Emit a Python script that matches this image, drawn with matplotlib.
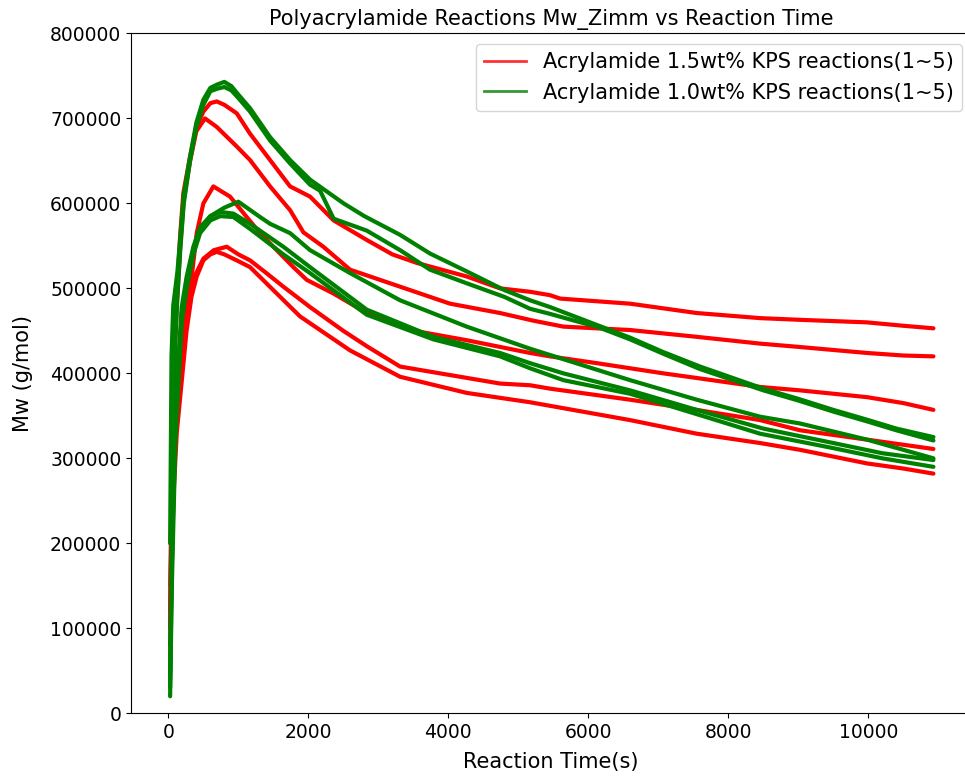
import matplotlib
matplotlib.use("Agg")
import matplotlib.pyplot as plt
from matplotlib.lines import Line2D
import numpy as np

# Reaction time (s) and Mw (in thousands of g/mol)
# 1.5wt% KPS reactions (red)
r1_t = [25, 50, 80, 120, 167, 214, 310, 400, 500, 600, 691, 800, 977, 1167, 1453, 1739, 2024, 2361, 2834, 3200, 3548, 4262, 4739, 5167, 5453, 5596, 6596, 7548, 8453, 9024, 9981, 10500, 10929]
r1_m = [120, 300, 420, 490, 560, 612, 655, 690, 708, 718, 720, 716, 706, 682, 651, 620, 608, 580, 557, 540, 530, 514, 500, 496, 492, 488, 482, 471, 465, 463, 460, 456, 453]
r2_t = [25, 50, 80, 120, 170, 220, 310, 400, 524, 691, 977, 1167, 1453, 1739, 1929, 2214, 2596, 3310, 4024, 4739, 5214, 5643, 6596, 7548, 8453, 9024, 9981, 10500, 10929]
r2_m = [100, 280, 400, 480, 550, 605, 650, 685, 700, 690, 667, 651, 620, 592, 566, 549, 522, 502, 482, 471, 462, 455, 451, 443, 435, 431, 424, 421, 420]
r3_t = [25, 50, 90, 150, 250, 334, 405, 500, 643, 881, 1119, 1310, 1548, 1786, 1977, 2357, 2834, 3453, 4262, 5167, 5453, 6120, 7072, 7596, 8453, 9024, 9981, 10500, 10929]
r3_m = [80, 200, 320, 400, 470, 514, 565, 600, 620, 608, 584, 565, 545, 525, 510, 494, 471, 451, 439, 424, 420, 412, 400, 394, 384, 380, 372, 365, 357]
r4_t = [30, 60, 100, 150, 200, 280, 380, 500, 650, 834, 1000, 1167, 1400, 1643, 2024, 2500, 2834, 3310, 3881, 4739, 5167, 5453, 6596, 7548, 8453, 9024, 9981, 10500, 10929]
r4_m = [150, 260, 320, 370, 420, 480, 515, 535, 545, 549, 540, 533, 518, 502, 478, 450, 432, 408, 400, 388, 386, 382, 369, 357, 345, 333, 322, 316, 311]
r5_t = [30, 70, 120, 190, 260, 330, 405, 500, 600, 691, 800, 1000, 1167, 1548, 1881, 2596, 3310, 4262, 5167, 6596, 7548, 8453, 9024, 9981, 10500, 10929]
r5_m = [100, 250, 330, 390, 450, 490, 514, 533, 540, 543, 540, 532, 525, 494, 467, 427, 396, 377, 366, 345, 329, 318, 310, 294, 288, 282]

# 1.0wt% KPS reactions (green)
g1_t = [25, 45, 70, 100, 130, 170, 220, 310, 400, 500, 600, 700, 800, 900, 1000, 1167, 1453, 1739, 2024, 2504, 2800, 3310, 3738, 4262, 4800, 5167, 5453, 6120, 6596, 7072, 7596, 8500, 9000, 9500, 10000, 10400, 10929]
g1_m = [200, 420, 480, 500, 520, 560, 610, 655, 695, 722, 736, 740, 743, 738, 728, 712, 678, 651, 628, 600, 585, 563, 541, 520, 498, 486, 478, 457, 442, 425, 408, 382, 370, 357, 345, 335, 325]
g2_t = [25, 45, 70, 100, 130, 170, 220, 310, 400, 500, 600, 700, 800, 900, 1000, 1167, 1453, 1739, 2024, 2167, 2361, 2834, 3310, 3738, 4262, 4800, 5167, 5453, 5800, 6120, 6596, 7072, 7596, 8500, 9000, 9500, 10000, 10400, 10929]
g2_m = [40, 180, 350, 440, 490, 545, 600, 650, 690, 716, 732, 735, 737, 733, 724, 708, 674, 647, 622, 615, 582, 568, 545, 522, 506, 490, 476, 470, 462, 455, 440, 423, 405, 380, 368, 355, 343, 333, 321]
g3_t = [25, 50, 100, 191, 262, 357, 453, 600, 800, 1000, 1310, 1453, 1739, 2024, 2596, 3310, 4262, 5167, 6596, 7548, 8453, 9024, 9981, 10500, 10929]
g3_m = [50, 200, 360, 478, 514, 549, 572, 585, 595, 602, 584, 576, 565, 545, 518, 486, 455, 429, 392, 369, 349, 341, 322, 310, 300]
g4_t = [25, 50, 100, 191, 262, 357, 453, 600, 739, 929, 1167, 1643, 2024, 2834, 3786, 4739, 5167, 5643, 6596, 7548, 8500, 9500, 10200, 10929]
g4_m = [30, 180, 340, 470, 510, 545, 570, 585, 590, 588, 576, 549, 525, 475, 443, 424, 412, 400, 380, 357, 335, 318, 306, 298]
g5_t = [25, 50, 100, 191, 262, 357, 453, 600, 739, 929, 1167, 1643, 2024, 2834, 3786, 4739, 5167, 5643, 6596, 7548, 8453, 9500, 10200, 10929]
g5_m = [20, 150, 320, 460, 500, 540, 565, 580, 585, 584, 570, 540, 518, 469, 440, 420, 406, 392, 376, 352, 329, 312, 300, 290]

red_runs = [(r1_t, r1_m), (r2_t, r2_m), (r3_t, r3_m), (r4_t, r4_m), (r5_t, r5_m)]
green_runs = [(g1_t, g1_m), (g2_t, g2_m), (g3_t, g3_m), (g4_t, g4_m), (g5_t, g5_m)]

labels = ["Acrylamide 1.5wt% KPS reactions(1~5)", "Acrylamide 1.0wt% KPS reactions(1~5)"]

fig = plt.figure(figsize=(9.65, 7.78), dpi=100)
# the reference is cropped: the right edge of the axes lies just past the image
ax = fig.add_axes([0.1358, 0.0832, 0.8705, 0.8738])

for t, m in red_runs:
    ax.plot(t, np.array(m) * 1000, color="red", lw=3, solid_capstyle="round")
for t, m in green_runs:
    ax.plot(t, np.array(m) * 1000, color="green", lw=3, solid_capstyle="round")

ax.set_xlim(-533, 11467)
ax.set_ylim(0, 800000)
ax.set_xticks([0, 2000, 4000, 6000, 8000, 10000])
ax.spines["right"].set_visible(False)
ax.tick_params(labelsize=13.5)
ax.set_title("Polyacrylamide Reactions Mw_Zimm vs Reaction Time", fontsize=15)
ax.set_xlabel("Reaction Time(s)", fontsize=15, labelpad=7)
ax.set_ylabel("Mw (g/mol)", fontsize=15, labelpad=12)

handles = [Line2D([], [], color="red", lw=2, alpha=0.8),
           Line2D([], [], color="green", lw=2, alpha=0.8)]
ax.legend(handles, labels, fontsize=15, loc="upper right",
          bbox_to_anchor=(962 / 965, 1 - 44 / 778),
          bbox_transform=fig.transFigure, borderaxespad=0)

fig.savefig("out.png", dpi=100)
